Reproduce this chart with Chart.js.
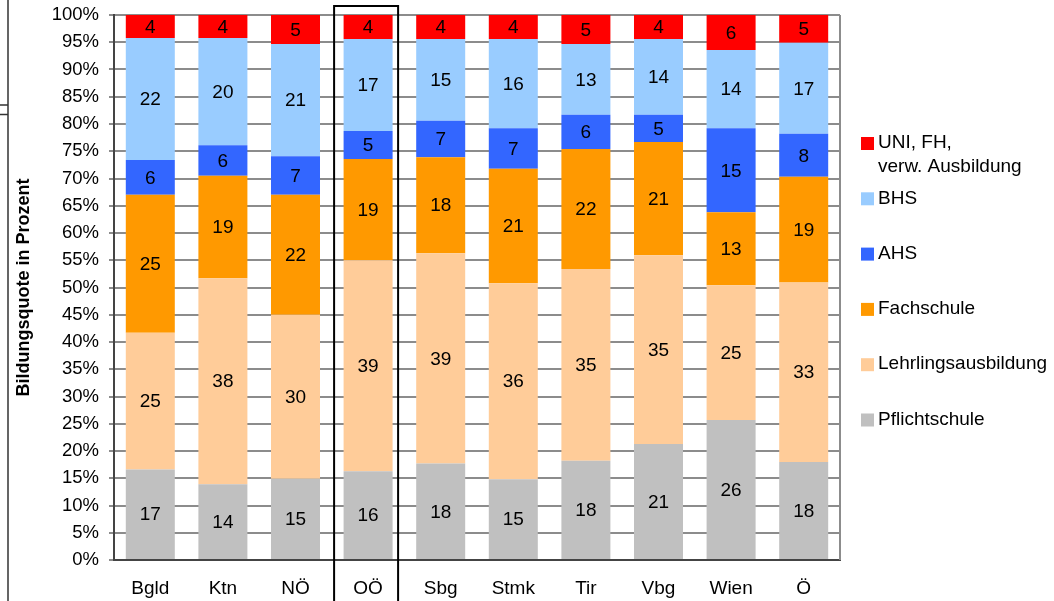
<!DOCTYPE html>
<html>
<head>
<meta charset="utf-8">
<script src="https://cdn.jsdelivr.net/npm/chart.js@4/dist/chart.umd.min.js"></script>
<style>
  html, body { margin: 0; padding: 0; background: #fff; }
  #wrap { position: relative; width: 1054px; height: 601px; }
</style>
</head>
<body>
<div id="wrap"><canvas id="chart"></canvas></div>
<script>
const regions = ['Bgld', 'Ktn', 'NÖ', 'OÖ', 'Sbg', 'Stmk', 'Tir', 'Vbg', 'Wien', 'Ö']

// shares in percent
const pflichtschule = [16.6, 13.9, 14.9, 16.3, 17.7, 14.8, 18.2, 21.3, 25.7, 18.0]
const lehre         = [25.1, 37.8, 30.1, 38.7, 38.6, 36.0, 35.2, 34.6, 24.7, 32.9]
const fachschule    = [25.3, 18.8, 22.0, 18.6, 17.6, 21.0, 22.0, 20.8, 13.4, 19.4]
const ahs           = [6.4, 5.6, 7.1, 5.1, 6.7, 7.4, 6.3, 5.0, 15.4, 7.9]
const bhs           = [22.4, 19.7, 20.6, 16.9, 15.0, 16.4, 13.0, 13.9, 14.4, 16.7]
const uni           = [4.2, 4.2, 5.3, 4.4, 4.4, 4.4, 5.3, 4.4, 6.4, 5.1]

const seriesNames = ['Pflichtschule', 'Lehrlingsausbildung', 'Fachschule', 'AHS', 'BHS', 'UNI, FH, verw. Ausbildung']
const legendLines = [['Pflichtschule'], ['Lehrlingsausbildung'], ['Fachschule'], ['AHS'], ['BHS'], ['UNI, FH,', 'verw. Ausbildung']]
const seriesColors = ['#C0C0C0', '#FFCC99', '#FF9900', '#3366FF', '#99CCFF', '#FF0000']
const seriesData = [pflichtschule, lehre, fachschule, ahs, bhs, uni]

const FONT = '"Liberation Sans", Arial, sans-serif'
Chart.defaults.font.family = FONT
Chart.defaults.color = '#000'

// numbers in the middle of every segment
const segLabels = {
    id: 'segLabels',
    afterDatasetsDraw(chart) {
        const ctx = chart.ctx
        ctx.save()
        ctx.font = '19px ' + FONT
        ctx.fillStyle = '#000'
        ctx.textAlign = 'center'
        ctx.textBaseline = 'middle'
        chart.data.datasets.forEach((ds, i) => {
            chart.getDatasetMeta(i).data.forEach((bar, j) => {
                ctx.fillText(Math.round(ds.data[j]), bar.x, (bar.y + bar.base) / 2 + 1)
            })
        })
        ctx.restore()
    }
}

// legend on the right, top entry first, with the two-line label
const sideLegend = {
    id: 'sideLegend',
    afterDraw(chart) {
        const ctx = chart.ctx
        const area = chart.chartArea
        ctx.save()
        ctx.font = '19px ' + FONT
        ctx.textBaseline = 'middle'
        ctx.textAlign = 'left'
        let y = area.top + 128
        for (let i = chart.data.datasets.length - 1; i >= 0; i--) {
            ctx.fillStyle = chart.data.datasets[i].backgroundColor
            ctx.fillRect(area.right + 21, y - 6, 13, 13)
            ctx.fillStyle = '#000'
            legendLines[i].forEach((line, k) => ctx.fillText(line, area.right + 38, y + k * 24))
            y += 55.3
        }
        ctx.restore()
    }
}

// plot frame on the right, box around OÖ, leftover page lines
const extras = {
    id: 'extras',
    afterDraw(chart) {
        const ctx = chart.ctx
        const area = chart.chartArea
        const x = chart.scales.x
        ctx.save()
        ctx.strokeStyle = '#8c8c8c'
        ctx.lineWidth = 2
        ctx.beginPath()
        ctx.moveTo(area.right, area.top)
        ctx.lineTo(area.right, area.bottom)
        ctx.stroke()

        const cx = x.getPixelForValue(3)
        ctx.strokeStyle = '#000'
        ctx.lineWidth = 2
        ctx.beginPath()
        ctx.moveTo(cx - 34, chart.height + 2)
        ctx.lineTo(cx - 34, area.top - 9)
        ctx.lineTo(cx + 30, area.top - 9)
        ctx.lineTo(cx + 30, chart.height + 2)
        ctx.stroke()

        ctx.strokeStyle = '#333'
        ctx.lineWidth = 1.5
        ctx.beginPath()
        ctx.moveTo(8, 0)
        ctx.lineTo(8, chart.height)
        ctx.moveTo(0, 105)
        ctx.lineTo(8, 105)
        ctx.moveTo(0, 114.5)
        ctx.lineTo(8, 114.5)
        ctx.stroke()
        ctx.restore()
    }
}

new Chart(document.getElementById('chart'), {
    type: 'bar',
    data: {
        labels: regions,
        datasets: seriesData.map((d, i) => ({
            label: seriesNames[i],
            data: d,
            backgroundColor: seriesColors[i],
            borderWidth: 0,
            categoryPercentage: 1,
            barPercentage: 0.675,
        }))
    },
    options: {
        responsive: true,
        maintainAspectRatio: false,
        animation: false,
        layout: { padding: { top: 15, right: 214, left: 0, bottom: 0 } },
        plugins: {
            legend: { display: false },
            tooltip: { enabled: false },
        },
        scales: {
            x: {
                stacked: true,
                grid: { display: false, drawTicks: false },
                border: { display: true, color: '#444', width: 2 },
                ticks: { color: '#000', font: { size: 19 }, padding: 17, maxRotation: 0 },
                afterFit: (s) => { s.height = 41; s.paddingLeft = 0; s.paddingRight = 0 },
            },
            y: {
                stacked: true,
                min: 0,
                max: 100,
                ticks: {
                    stepSize: 5,
                    callback: (v) => v + '%',
                    color: '#000',
                    font: { size: 18.5 },
                    padding: 10,
                },
                grid: { color: '#8c8c8c', lineWidth: 2, tickLength: 5 },
                border: { color: '#444', width: 2 },
                title: {
                    display: true,
                    text: 'Bildungsquote in Prozent',
                    color: '#000',
                    font: { size: 18, weight: 'bold' },
                    padding: { top: 13, bottom: 0 },
                },
                afterFit: (s) => { s.width = 114; s.paddingTop = 0; s.paddingBottom = 0 },
            },
        },
    },
    plugins: [segLabels, sideLegend, extras],
})
</script>
</body>
</html>
